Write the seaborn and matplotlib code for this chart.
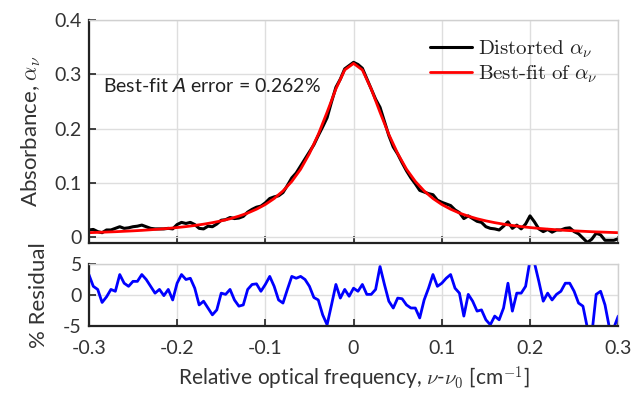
import numpy as np
import pandas as pd
import matplotlib
matplotlib.use("Agg")
import matplotlib.pyplot as plt
import seaborn as sns

# ---------------- data ----------------
x_meas = np.linspace(-0.30, 0.30, 121)
absorb_meas = [
    0.013, 0.014, 0.010, 0.008, 0.013, 0.013, 0.016, 0.019, 0.016, 0.017,
    0.019, 0.020, 0.022, 0.019, 0.016, 0.015, 0.015, 0.015, 0.016, 0.015,
    0.023, 0.027, 0.025, 0.027, 0.023, 0.016, 0.015, 0.020, 0.019, 0.024,
    0.031,
    0.032, 0.036, 0.034, 0.035, 0.038, 0.046, 0.051, 0.055, 0.057, 0.063,
    0.071, 0.074, 0.076, 0.082, 0.095, 0.109, 0.118, 0.131, 0.144, 0.157,
    0.170, 0.187, 0.203, 0.220, 0.249, 0.276, 0.291, 0.310, 0.316, 0.322,
    0.318, 0.311, 0.292, 0.273, 0.254, 0.239, 0.213, 0.187, 0.166, 0.153,
    0.137, 0.122, 0.109, 0.098, 0.086, 0.083, 0.080, 0.078, 0.068, 0.064,
    0.061, 0.058, 0.050, 0.045, 0.034, 0.039, 0.034, 0.029, 0.027,
    0.019, 0.016, 0.015, 0.013, 0.020, 0.028, 0.016, 0.022, 0.015, 0.024,
    0.039, 0.028, 0.015, 0.010, 0.014, 0.009, 0.013, 0.013, 0.016, 0.017,
    0.010, 0.006, -0.002, -0.010, -0.004, 0.007, 0.004, -0.006, -0.006, -0.006,
    -0.003,
]
residual_pct = [
    3.3, 1.4, 0.9, -1.2, -0.3, 0.9, 0.6, 3.3, 1.9, 1.4,
    2.2, 2.2, 3.3, 2.5, 1.4, 0.3, 0.9, -0.1, 0.9, -0.8,
    1.9, 3.3, 2.5, 2.7, 1.1, -1.6, -1.0, -2.1, -3.2, -2.4,
    0.3, 0.1, 0.9, -0.8, -1.8, -1.6, 0.9, 1.7, 1.8, 0.6,
    1.7,
    3.0, 1.4, -0.8, -1.3, 0.9, 3.0, 2.7, 3.0, 2.5, 1.4,
    -0.4, -0.8, -3.2, -4.8, -1.6, 1.7, -0.5, 0.9, -0.2, 1.1,
    0.6, 1.7, 0.1, 0.1, 0.9, 4.6, 1.7, -1.0, -2.1, -0.5,
    -0.6, -1.6, -2.1, -2.1, -3.7, -0.8, 1.1, 3.3, 1.4, 1.9,
    2.7, 3.3, 1.1, 0.3, -3.4, 0.1, -1.0, -2.6, -2.4, -4.0,
    -4.8, -3.4, -4.0, -2.1, 1.9, -2.6, 0.3, 0.3, 1.4, 5.6,
    5.2, 2.2, -1.0, 0.3, -0.8, 0.1, 0.6, 1.9, 1.9, 0.6,
    -1.3, -1.8, -5.3, -6.4, 0.1, 0.6, -1.6, -5.3, -5.3, -3.4,
]
x_fit = np.linspace(-0.30, 0.30, 61)
absorb_fit = [
    0.0080, 0.0086, 0.0092, 0.0098, 0.0106, 0.0114, 0.0123, 0.0134, 0.0146, 0.0159,
    0.0175, 0.0192, 0.0213, 0.0237, 0.0265, 0.0298, 0.0337, 0.0385, 0.0442, 0.0513,
    0.0600, 0.0710, 0.0849, 0.1025, 0.1250, 0.1540, 0.1890, 0.2300, 0.2730, 0.3080,
    0.3200,
    0.3080, 0.2730, 0.2300, 0.1890, 0.1540, 0.1250, 0.1025, 0.0849, 0.0710, 0.0600,
    0.0513, 0.0442, 0.0385, 0.0337, 0.0298, 0.0265, 0.0237, 0.0213, 0.0192, 0.0175,
    0.0159, 0.0146, 0.0134, 0.0123, 0.0114, 0.0106, 0.0098, 0.0092, 0.0086, 0.0080,
]
x_ticks = [-0.3, -0.2, -0.1, 0, 0.1, 0.2, 0.3]
x_ticklabels = ["-0.3", "-0.2", "-0.1", "0", "0.1", "0.2", "0.3"]
y_ticks_top = [0, 0.1, 0.2, 0.3, 0.4]
y_ticklabels_top = ["0", "0.1", "0.2", "0.3", "0.4"]
y_ticks_bot = [-5, 0, 5]
y_ticklabels_bot = ["-5", "0", "5"]

df_meas = pd.DataFrame({"x": x_meas, "a": absorb_meas, "r": residual_pct})
df_fit = pd.DataFrame({"x": x_fit, "a": absorb_fit})

# ---------------- style ----------------
sns.set_theme(style="whitegrid")
plt.rcParams["font.family"] = ["Lato", "DejaVu Sans"]
plt.rcParams["mathtext.fontset"] = "cm"

GRID = "#dedede"
TXT = "#333333"
fig = plt.figure(figsize=(6.44, 4.0), dpi=100)
ax1 = fig.add_axes([0.138, 0.3925, 0.822, 0.5575])
ax2 = fig.add_axes([0.138, 0.185, 0.822, 0.155])

sns.lineplot(data=df_meas, x="x", y="a", ax=ax1, color="black", lw=2.2,
             label=r"$\mathrm{Distorted}\ \alpha_\nu$", estimator=None, sort=False)
sns.lineplot(data=df_fit, x="x", y="a", ax=ax1, color="#ff0000", lw=2.0,
             label=r"$\mathrm{Best\text{-}fit\ of}\ \alpha_\nu$", estimator=None, sort=False)
sns.lineplot(data=df_meas, x="x", y="r", ax=ax2, color="#0000ff", lw=2.0,
             estimator=None, sort=False)

for ax in (ax1, ax2):
    ax.set_xlim(-0.3, 0.3)
    ax.set_xticks(x_ticks)
    ax.grid(True, color=GRID, lw=1.0)
    ax.set_facecolor("white")
    for s in ("top", "right"):
        ax.spines[s].set_color("#d0d0d0")
        ax.spines[s].set_linewidth(1.0)
    for s in ("left", "bottom"):
        ax.spines[s].set_color("#222222")
        ax.spines[s].set_linewidth(1.6)
    ax.tick_params(direction="in", length=5, width=1.2, color="#222222",
                   labelsize=14, labelcolor=TXT,
                   bottom=True, left=True, top=False, right=False)
    ax.tick_params(axis="y", pad=5)
    ax.tick_params(axis="x", pad=10)

ax1.set_ylim(-0.011, 0.4)
ax1.set_yticks(y_ticks_top)
ax1.set_yticklabels(y_ticklabels_top)
ax1.set_xticklabels([])
ax1.set_xlabel("")
ax1.set_ylabel(r"Absorbance, $\alpha_\nu$", fontsize=16, color=TXT, labelpad=8)

ax2.set_ylim(-5, 5)
ax2.set_yticks(y_ticks_bot)
ax2.set_yticklabels(y_ticklabels_bot)
ax2.set_xticklabels(x_ticklabels)
ax2.set_ylabel("% Residual", fontsize=16, color=TXT, labelpad=10)
ax2.set_xlabel(r"Relative optical frequency, $\nu$-$\nu_0$ [cm$^{\mathsf{-1}}$]",
               fontsize=15, color=TXT, labelpad=6)

ax1.text(-0.284, 0.279, r"Best-fit $A$ error = 0.262%", fontsize=14,
         color="#222222", va="center", ha="left", math_fontfamily="dejavusans")

leg = ax1.legend(loc="upper right", frameon=False, fontsize=15,
                 handlelength=2.0, handletextpad=0.3, borderaxespad=0.2,
                 labelspacing=0.2, bbox_to_anchor=(0.985, 0.975))
for t in leg.get_texts():
    t.set_color("#222222")

fig.savefig("out.png", dpi=100, facecolor="white")
